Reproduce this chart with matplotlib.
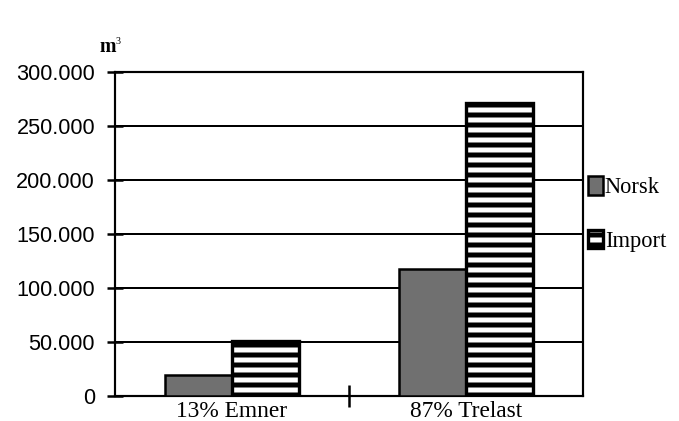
import matplotlib
matplotlib.use("Agg")
import matplotlib.pyplot as plt
import numpy as np

categories = ["13% Emner", "87% Trelast"]
norsk = [19000, 118000]
imports = [51000, 271000]
yticks = [0, 50000, 100000, 150000, 200000, 250000, 300000]
ytick_labels = ["0", "50.000", "100.000", "150.000", "200.000", "250.000", "300.000"]
series_labels = ["Norsk", "Import"]

DPI = 120
plt.rcParams['hatch.linewidth'] = 3.0
plt.rcParams['hatch.color'] = 'black'

fig = plt.figure(figsize=(679 / DPI, 421 / DPI), dpi=DPI)
ax = fig.add_axes([115 / 679, 1 - 396 / 421, (583 - 115) / 679, (396 - 72) / 421])

x = np.arange(len(categories))
w = 0.286
b1 = ax.bar(x - w / 2, norsk, w, color="#707070", edgecolor="black", linewidth=1.5,
            label=series_labels[0], zorder=3)
b2 = ax.bar(x + w / 2, imports, w, color="white", edgecolor="black", linewidth=2.0,
            hatch="--", label=series_labels[1], zorder=3)

ax.set_xlim(-0.5, 1.5)
ax.set_ylim(0, 300000)
ax.set_yticks(yticks)
ax.set_yticklabels(ytick_labels, family="Liberation Sans", fontsize=13)
ax.set_xticks(x)
ax.set_xticklabels(categories, family="Liberation Serif", fontsize=14)
ax.tick_params(axis="x", which="major", length=0, pad=3)
ax.set_xticks([0.5], minor=True)
ax.tick_params(axis="x", which="minor", direction="inout", length=13, width=1.5)
ax.tick_params(axis="y", direction="inout", length=10, width=1.5, pad=7)

ax.yaxis.grid(True, color="black", linewidth=1.2, zorder=0)
ax.set_axisbelow(True)
for s in ax.spines.values():
    s.set_linewidth(1.3)
    s.set_color("black")

fig.text(100 / 679, 1 - 52 / 421, "m", family="Liberation Serif", fontweight="bold",
         fontsize=12, ha="left", va="baseline")
fig.text(116 / 679, 1 - 44 / 421, "3", family="Liberation Serif",
         fontsize=6, ha="left", va="baseline")

leg = fig.legend(handles=[b1, b2], labels=series_labels, loc="upper left",
                 bbox_to_anchor=(588 / 679, 1 - 176 / 421), frameon=False,
                 prop={"family": "Liberation Serif", "size": 13.5},
                 handlelength=0.65, handleheight=0.9, handletextpad=0.1,
                 labelspacing=1.4, borderaxespad=0, borderpad=0)

fig.savefig("out.png", dpi=DPI)
